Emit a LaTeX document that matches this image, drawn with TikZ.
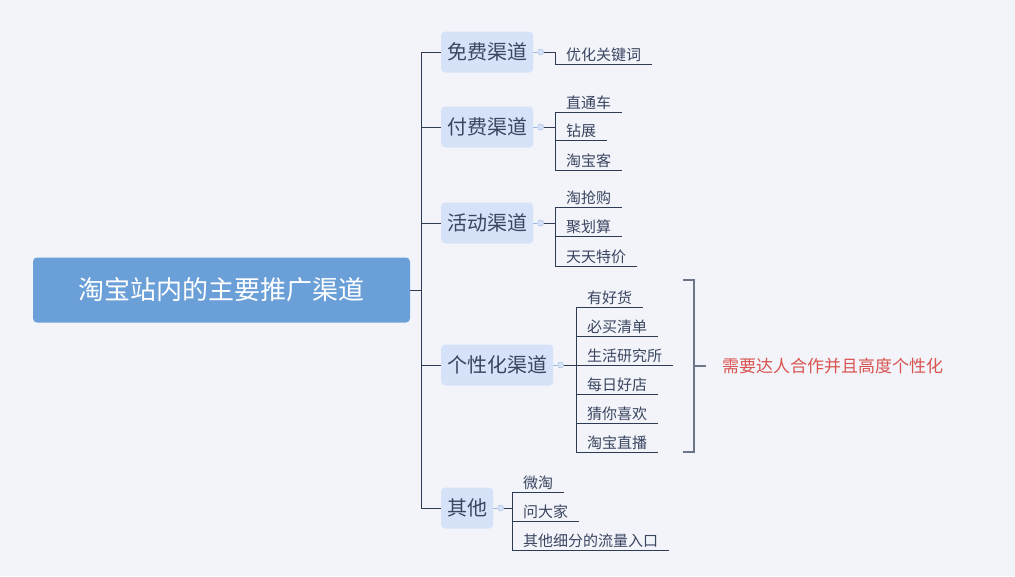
\documentclass[tikz,border=0pt]{standalone}
\usepackage{fontspec}
\setmainfont{Noto Sans CJK SC}
\begin{document}
\begin{tikzpicture}[x=1pt,y=-1pt,
  ln/.style={draw=lnc,line width=1pt},
  root/.style={fill=rootc,rounded corners=4pt,text=white,font=\fontsize{26}{30}\selectfont,minimum width=377pt,minimum height=65pt,inner sep=0pt},
  br/.style={fill=brc,rounded corners=4pt,text=txc,font=\fontsize{20}{24}\selectfont,minimum height=41pt,inner xsep=6pt,anchor=west},
  dot/.style={circle,draw=dotc,fill=brc,minimum size=6pt,inner sep=0pt},
  leaf/.style={anchor=south west,text=txc,font=\fontsize{15}{18}\selectfont,inner xsep=11pt,inner ysep=2pt}]
\definecolor{bgc}{HTML}{F2F4F9}
\definecolor{rootc}{HTML}{6A9FD8}
\definecolor{brc}{HTML}{D5E2F7}
\definecolor{txc}{HTML}{3A4560}
\definecolor{lnc}{HTML}{2E3B55}
\definecolor{dotc}{HTML}{9DB8DC}
\definecolor{redc}{HTML}{D9534F}
\fill[bgc] (0,0) rectangle (1015,576);
\node[root] (r) at (221.5,290) {淘宝站内的主要推广渠道};
\coordinate (t1) at (421,52);
\coordinate (t2) at (421,508);
\draw[ln] (t1) -- (t2);
\draw[ln] (r.east) -- (421,290);
\node[br] (b1) at (441,52) {免费渠道};
\node[br] (b2) at (441,127) {付费渠道};
\node[br] (b3) at (441,223) {活动渠道};
\node[br] (b4) at (441,365) {个性化渠道};
\node[br] (b5) at (441,508) {其他};
\foreach \b/\y in {b1/52,b2/127,b3/223,b4/365,b5/508}{\draw[ln] (421,\y) -- (\b.west);}
\foreach \b in {b1,b2,b3,b4,b5}{\node[dot,anchor=west] (d\b) at ([xshift=4pt]\b.east) {};}
\draw[dotc,line width=0.8pt] (b1.east) -- (db1.west) (b2.east) -- (db2.west) (b3.east) -- (db3.west) (b4.east) -- (db4.west) (b5.east) -- (db5.west);
\node[leaf] (l11) at (555,64) {优化关键词};
\draw[ln] (db1.east) -| (l11.south west) -- (l11.south east);
\node[leaf] (l21) at (555,112) {直通车};
\node[leaf] (l22) at (555,140) {钻展};
\node[leaf] (l23) at (555,170) {淘宝客};
\draw[ln] (db2.east) -- (555,127);
\draw[ln] (l21.south west) -- (l23.south west);
\node[leaf] (l31) at (555,207) {淘抢购};
\node[leaf] (l32) at (555,236) {聚划算};
\node[leaf] (l33) at (555,266) {天天特价};
\draw[ln] (db3.east) -- (555,223);
\draw[ln] (l31.south west) -- (l33.south west);
\node[leaf] (l41) at (576,307) {有好货};
\node[leaf] (l42) at (576,336) {必买清单};
\node[leaf] (l43) at (576,365) {生活研究所};
\node[leaf] (l44) at (576,394) {每日好店};
\node[leaf] (l45) at (576,423) {猜你喜欢};
\node[leaf] (l46) at (576,452) {淘宝直播};
\draw[ln] (db4.east) -- (576,365);
\draw[ln] (l41.south west) -- (l46.south west);
\node[leaf] (l51) at (512,492) {微淘};
\node[leaf] (l52) at (512,521) {问大家};
\node[leaf] (l53) at (512,550) {其他细分的流量入口};
\draw[ln] (db5.east) -- (512,508);
\draw[ln] (l51.south west) -- (l53.south west);
\foreach \n in {l21,l22,l23,l31,l32,l33,l41,l42,l43,l44,l45,l46,l51,l52,l53}{\draw[ln] (\n.south west) -- (\n.south east);}
\coordinate (k1) at (683,280);
\coordinate (k2) at (683,452);
\coordinate (km) at (694,366);
\coordinate (kt) at (706,366);
\draw[draw=lnc!70,line width=1.5pt] (k1) -- (694,280) -- (694,452) -- (k2);
\draw[draw=lnc!70,line width=1.5pt] (km) -- (kt);
\node[anchor=west,text=redc,font=\fontsize{17}{20}\selectfont,inner sep=0pt] (note) at (722,366) {需要达人合作并且高度个性化};
\end{tikzpicture}
\end{document}
